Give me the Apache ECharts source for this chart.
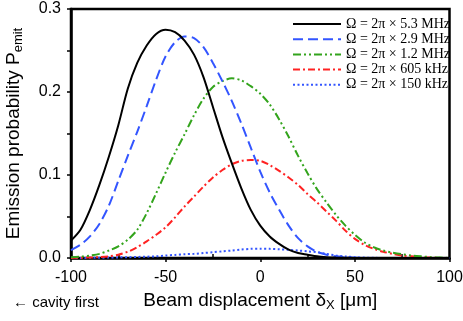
<!DOCTYPE html>
<html>
<head>
<meta charset="utf-8">
<script src="https://cdn.jsdelivr.net/npm/echarts@6/dist/echarts.min.js"></script>
<style>
  html, body { margin: 0; padding: 0; background: #fff; }
  #chart { width: 463px; height: 321px; }
</style>
</head>
<body>
<div id="chart"></div>
<script>
// beam displacement in micrometres
const displacement = [
  -100, -95, -90, -85, -80, -75, -70, -65, -60, -55, -50, -45, -40, -35, -30, -25, -20, -15, -10, -5,
  0, 5, 10, 15, 20, 25, 30, 35, 40, 45, 50, 55, 60, 65, 70, 75, 80, 85, 90, 95, 100,
];

// emission probability for each drive strength
const omega5300 = [
  0.021, 0.034, 0.058, 0.088, 0.122, 0.160, 0.204, 0.235, 0.256, 0.270, 0.275, 0.272, 0.262, 0.245, 0.218, 0.182, 0.146, 0.114, 0.084, 0.058,
  0.039, 0.026, 0.017, 0.010, 0.006, 0.004, 0.002, 0.001, 0.0005, 0.0002, 0, 0, 0, 0, 0, 0, 0, 0, 0, 0, 0,
];
const omega2900 = [
  0.0096, 0.016, 0.026, 0.041, 0.063, 0.093, 0.123, 0.152, 0.183, 0.215, 0.243, 0.260, 0.267, 0.265, 0.254, 0.235, 0.213, 0.189, 0.162, 0.133,
  0.104, 0.079, 0.058, 0.039, 0.024, 0.014, 0.0075, 0.004, 0.002, 0.001, 0.0004, 0, 0, 0, 0, 0, 0, 0, 0, 0, 0,
];
const omega1200 = [
  0.001, 0.0015, 0.003, 0.005, 0.009, 0.014, 0.022, 0.034, 0.054, 0.078, 0.103, 0.127, 0.149, 0.172, 0.192, 0.206, 0.213, 0.2165, 0.214, 0.207,
  0.198, 0.185, 0.167, 0.146, 0.123, 0.102, 0.083, 0.067, 0.052, 0.039, 0.028, 0.019, 0.013, 0.009, 0.0065, 0.0045, 0.003, 0.002, 0.001, 0.0005, 0,
];
const omega605 = [
  0, 0.0003, 0.0006, 0.001, 0.002, 0.004, 0.0075, 0.013, 0.020, 0.028, 0.037, 0.049, 0.062, 0.074, 0.086, 0.097, 0.106, 0.113, 0.117, 0.118,
  0.117, 0.112, 0.105, 0.097, 0.088, 0.077, 0.067, 0.056, 0.045, 0.033, 0.023, 0.016, 0.011, 0.0075, 0.005, 0.003, 0.002, 0.001, 0.0005, 0.0002, 0,
];
const omega150 = [
  0, 0.0001, 0.0002, 0.0003, 0.0005, 0.0007, 0.001, 0.0013, 0.0016, 0.002, 0.003, 0.0037, 0.0045, 0.005, 0.006, 0.007, 0.008, 0.009, 0.0102, 0.011,
  0.0112, 0.011, 0.0105, 0.0098, 0.009, 0.008, 0.007, 0.005, 0.003, 0.0018, 0.001, 0.0005, 0.0002, 0.0001, 0, 0, 0, 0, 0, 0, 0,
];

const seriesNames = [
  'Ω = 2π × 5.3 MHz',
  'Ω = 2π × 2.9 MHz',
  'Ω = 2π × 1.2 MHz',
  'Ω = 2π × 605 kHz',
  'Ω = 2π × 150 kHz',
];
const xMinorTicks = [-75, -25, 25, 75];

const sans = 'Liberation Sans, Arial, sans-serif';
const serif = 'Liberation Serif, Times New Roman, serif';

const pairs = values => displacement.map((x, i) => [x, values[i]]);

const curve = (name, values, color, type, z) => ({
  name,
  type: 'line',
  data: pairs(values),
  smooth: 0.3,
  symbol: 'none',
  z,
  lineStyle: { color, width: 2, type },
  itemStyle: { color },
});

const chart = echarts.init(document.getElementById('chart'), null, { renderer: 'canvas' });

chart.setOption({
  animation: false,
  grid: {
    left: 71,
    top: 9,
    width: 378.5,
    height: 249,
    outerBoundsMode: 'none',
    containLabel: false,
    show: true,
    borderColor: '#000',
    borderWidth: 2.5,
    backgroundColor: 'transparent',
  },
  legend: {
    orient: 'vertical',
    left: 287,
    top: 12,
    itemWidth: 48,
    itemHeight: 14,
    itemGap: 1.2,
    itemStyle: { opacity: 0 },
    textStyle: { fontFamily: serif, fontSize: 14, color: '#000' },
    data: seriesNames,
  },
  xAxis: [
    {
      type: 'value',
      min: -100,
      max: 100,
      interval: 50,
      name: 'Beam displacement δ{sub|X} [μm]',
      nameLocation: 'middle',
      nameGap: 32,
      nameTextStyle: {
        fontFamily: sans,
        fontSize: 19,
        color: '#000',
        rich: { sub: { fontFamily: sans, fontSize: 13, color: '#000', padding: [9, 0, 0, 0] } },
      },
      axisLine: { show: true, lineStyle: { color: '#000', width: 2.5 } },
      axisTick: { show: true, length: 4, lineStyle: { color: '#000', width: 1.5 } },
      axisLabel: { fontFamily: sans, fontSize: 16, color: '#000', margin: 12 },
      splitLine: { show: false },
    },
    {
      // inward minor ticks between the labelled values
      type: 'value',
      min: -100,
      max: 100,
      position: 'bottom',
      axisLine: { show: false },
      axisLabel: { show: false },
      axisTick: { show: true, inside: true, length: 4, customValues: xMinorTicks, lineStyle: { color: '#000', width: 1.5 } },
      splitLine: { show: false },
    },
  ],
  yAxis: {
    type: 'value',
    min: 0,
    max: 0.3,
    interval: 0.1,
    name: 'Emission probability P{sub|emit}',
    nameLocation: 'middle',
    nameGap: 46,
    nameTextStyle: {
      fontFamily: sans,
      fontSize: 19,
      color: '#000',
      rich: { sub: { fontFamily: sans, fontSize: 13, color: '#000', padding: [9, 0, 0, 0] } },
    },
    axisLine: { show: true, onZero: false, lineStyle: { color: '#000', width: 2.5 } },
    axisTick: { show: true, length: 4, lineStyle: { color: '#000', width: 1.5 } },
    minorTick: { show: true, splitNumber: 2, length: 4, lineStyle: { color: '#000', width: 1.5 } },
    axisLabel: { fontFamily: sans, fontSize: 16, color: '#000', margin: 10, formatter: v => v.toFixed(1) },
    splitLine: { show: false },
    minorSplitLine: { show: false },
  },
  graphic: [
    {
      type: 'text',
      left: 13,
      top: 295,
      style: { text: '← cavity first', fontFamily: sans, fontSize: 15, fill: '#000' },
    },
  ],
  series: [
    curve(seriesNames[0], omega5300, '#000000', 'solid', 6),
    curve(seriesNames[1], omega2900, '#3355ff', [10, 5], 5),
    curve(seriesNames[2], omega1200, '#33a41c', [8, 3, 2, 3, 2, 3], 4),
    curve(seriesNames[3], omega605, '#ff2222', [7, 3, 2, 3], 3),
    curve(seriesNames[4], omega150, '#3355ff', [2, 2.5], 2),
  ],
});
</script>
</body>
</html>
